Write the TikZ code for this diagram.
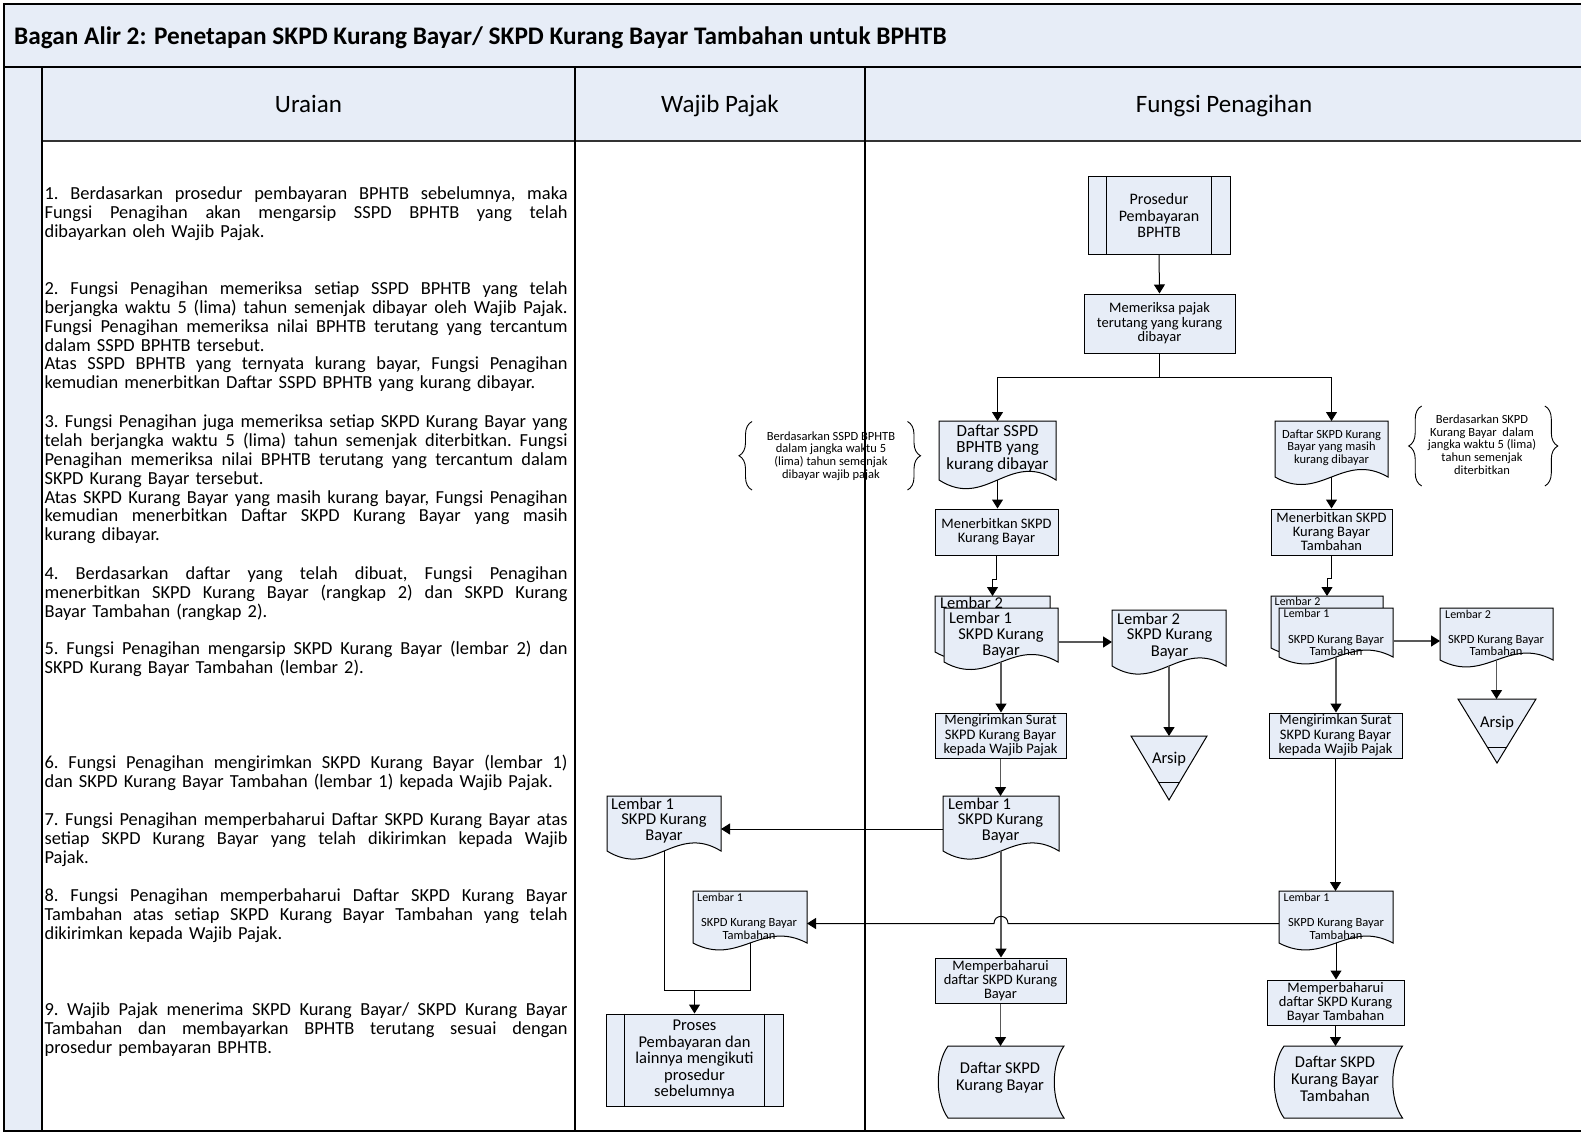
\documentclass[tikz,border=0pt]{standalone}
\usepackage{fontspec}
\setmainfont{Carlito}
\usetikzlibrary{arrows.meta,decorations.pathreplacing,calc}
\definecolor{lb}{RGB}{231,237,247}
\newcommand\myfs[2]{\fontsize{#1}{#2}\selectfont}
\newcommand\jline[1]{\makebox[523pt][s]{\spaceskip=.226em plus 1fil\relax #1}\\}
\newcommand\docnode[6]{%
  \filldraw[shp] (#2,#3) -- (#4,#3) -- (#4,#5) .. controls ({#4-0.4*(#4-#2)},{#5-#6}) and ({#2+0.4*(#4-#2)},{#5+#6}) .. (#2,#5) -- cycle;
  \node[anc, minimum width={#4-#2}, minimum height={#5-#3}] (#1) at ({(#2+#4)/2},{(#3+#5)/2}) {};}
\newcommand\arsip[7]{%
  \filldraw[shp] (#2,#4) -- (#3,#4) -- ({(#2+#3)/2},#5) -- cycle;
  \pgfmathsetmacro\arshw{(#3-#2)/2*(#5-#6)/(#5-#4)}
  \draw[line width=1pt] ({(#2+#3)/2-\arshw},#6) -- ({(#2+#3)/2+\arshw},#6);
  \node[anc, minimum width={#3-#2}, minimum height={#5-#4}] (#1) at ({(#2+#3)/2},{(#4+#5)/2}) {};
  \node[lbl, font=\myfs{16.5}{16.5}] (#1-t) at ({(#2+#3)/2},#7) {Arsip};}
\newcommand\stored[6]{%
  \filldraw[shp] (#2,#4) -- (#3,#4) .. controls ({#3-#6},{#4+0.25*(#5-#4)}) and ({#3-#6},{#5-0.25*(#5-#4)}) .. (#3,#5) -- (#2,#5) .. controls ({#2-#6},{#5-0.25*(#5-#4)}) and ({#2-#6},{#4+0.25*(#5-#4)}) .. (#2,#4) -- cycle;
  \node[anc, minimum width={#3-#2}, minimum height={#5-#4}] (#1) at ({(#2+#3)/2},{(#4+#5)/2}) {};}
\begin{document}
\begin{tikzpicture}[x=1pt,y=-1pt,
  shp/.style={draw=black, fill=lb, line width=1pt},
  box/.style={shp, rectangle, inner sep=0pt, align=center},
  anc/.style={rectangle, inner sep=0pt, outer sep=0pt},
  lbl/.style={inner sep=0pt, align=center},
  arr/.style={line width=1pt, -{Triangle[length=9pt,width=11pt]}},
  garr/.style={line width=1.4pt, draw=black!65, -{Triangle[length=9pt,width=11pt,color=black]}},
  ln/.style={line width=1pt},
  brc/.style={decorate, decoration={brace, amplitude=13pt}, line width=0.9pt},
  bodytxt/.style={anchor=north west, inner sep=0pt, text width=523pt, align=left, font=\myfs{18.4}{18.85}\frenchspacing},
  hdr/.style={anchor=base, inner sep=0pt, font=\myfs{25}{25}},
  inl/.style={line width=1pt}
]
\useasboundingbox (0,0) rectangle (1581,1134);
% ---------- frame ----------
\fill[lb] (4,4) rectangle (1590,141);
\fill[lb] (4,141) rectangle (42,1131);
\draw[line width=2pt] (1590,4) -- (4,4) -- (4,1131) -- (1590,1131);
\draw[line width=2pt] (4,67) -- (1590,67);
\draw[line width=1.2pt, black!80] (42,141) -- (1590,141);
\draw[line width=1.2pt] (42,67) -- (42,1131);
\draw[line width=1.2pt] (575,67) -- (575,1131);
\draw[line width=1.2pt] (865,67) -- (865,1131);
\node[anchor=base west, inner sep=0pt, font=\myfs{25.3}{25.3}\bfseries] (title) at (14,44.5) {Bagan Alir 2: Penetapan SKPD Kurang Bayar/ SKPD Kurang Bayar Tambahan untuk BPHTB};
\node[hdr] (h1) at (308.5,112.5) {Uraian};
\node[hdr] (h2) at (720,112.5) {Wajib Pajak};
\node[hdr] (h3) at (1224,112.5) {Fungsi Penagihan};
% ---------- uraian ----------
\node[bodytxt] (u1) at (44.4,184.5) {\rule{0pt}{15pt}\jline{1. Berdasarkan prosedur pembayaran BPHTB sebelumnya, maka}\jline{Fungsi Penagihan akan mengarsip SSPD BPHTB yang telah}dibayarkan oleh Wajib Pajak.};
\node[bodytxt] (u2) at (44.4,279.3) {\rule{0pt}{15pt}\jline{2. Fungsi Penagihan memeriksa setiap SSPD BPHTB yang telah}\jline{berjangka waktu 5 (lima) tahun semenjak dibayar oleh Wajib Pajak.}\jline{Fungsi Penagihan memeriksa nilai BPHTB terutang yang tercantum}dalam SSPD BPHTB tersebut.\\\jline{Atas SSPD BPHTB yang ternyata kurang bayar, Fungsi Penagihan}kemudian menerbitkan Daftar SSPD BPHTB yang kurang dibayar.};
\node[bodytxt] (u3) at (44.4,412.4) {\rule{0pt}{15pt}\jline{3. Fungsi Penagihan juga memeriksa setiap SKPD Kurang Bayar yang}\jline{telah berjangka waktu 5 (lima) tahun semenjak diterbitkan. Fungsi}\jline{Penagihan memeriksa nilai BPHTB terutang yang tercantum dalam}SKPD Kurang Bayar tersebut.\\\jline{Atas SKPD Kurang Bayar yang masih kurang bayar, Fungsi Penagihan}\jline{kemudian menerbitkan Daftar SKPD Kurang Bayar yang masih}kurang dibayar.};
\node[bodytxt] (u4) at (44.4,564.6) {\rule{0pt}{15pt}\jline{4. Berdasarkan daftar yang telah dibuat, Fungsi Penagihan}\jline{menerbitkan SKPD Kurang Bayar (rangkap 2) dan SKPD Kurang}Bayar Tambahan (rangkap 2).};
\node[bodytxt] (u5) at (44.4,639.2) {\rule{0pt}{15pt}\jline{5. Fungsi Penagihan mengarsip SKPD Kurang Bayar (lembar 2) dan}SKPD Kurang Bayar Tambahan (lembar 2).};
\node[bodytxt] (u6) at (44.4,753.2) {\rule{0pt}{15pt}\jline{6. Fungsi Penagihan mengirimkan SKPD Kurang Bayar (lembar 1)}dan SKPD Kurang Bayar Tambahan (lembar 1) kepada Wajib Pajak.};
\node[bodytxt] (u7) at (44.4,810.6) {\rule{0pt}{15pt}\jline{7. Fungsi Penagihan memperbaharui Daftar SKPD Kurang Bayar atas}\jline{setiap SKPD Kurang Bayar yang telah dikirimkan kepada Wajib}Pajak.};
\node[bodytxt] (u8) at (44.4,886.3) {\rule{0pt}{15pt}\jline{8. Fungsi Penagihan memperbaharui Daftar SKPD Kurang Bayar}\jline{Tambahan atas setiap SKPD Kurang Bayar Tambahan yang telah}dikirimkan kepada Wajib Pajak.};
\node[bodytxt] (u9) at (44.4,1000.2) {\rule{0pt}{15pt}\jline{9. Wajib Pajak menerima SKPD Kurang Bayar/ SKPD Kurang Bayar}\jline{Tambahan dan membayarkan BPHTB terutang sesuai dengan}prosedur pembayaran BPHTB.};
% ---------- flow: top ----------
\node[box, minimum width=142, minimum height=77, font=\myfs{16}{16.8}] (proc1) at (1159,215.5) {Prosedur\\Pembayaran\\BPHTB};
\draw[inl] ([xshift=19pt]proc1.north west) -- ([xshift=19pt]proc1.south west);
\draw[inl] ([xshift=-19pt]proc1.north east) -- ([xshift=-19pt]proc1.south east);
\node[box, minimum width=151, minimum height=59, font=\myfs{14.5}{14.5}] (chk) at (1159.5,323.5) {Memeriksa pajak\\terutang yang kurang\\dibayar};
\docnode{dssp}{939}{421}{1056}{480}{30}
\node[lbl, font=\myfs{17}{16.5}] (t-dssp) at (997.5,448.5) {Daftar SSPD\\BPHTB yang\\kurang dibayar};
\docnode{dskp}{1275}{421}{1388}{477}{26}
\node[lbl, font=\myfs{12.5}{12.5}] (t-dskp) at (1331.5,447.5) {Daftar SKPD Kurang\\Bayar yang masih\\kurang dibayar};
% annotations
\node[lbl, font=\myfs{12.5}{12.8}] (ann1) at (831,456) {Berdasarkan SSPD BPHTB\\dalam jangka waktu 5\\(lima) tahun semenjak\\dibayar wajib pajak};
\draw[brc] (752,490) -- (752,421.5);
\draw[brc] (907.5,421.5) -- (907.5,490);
\node[lbl, font=\myfs{12.5}{12.7}] (ann2) at (1482,444.5) {Berdasarkan SKPD\\Kurang Bayar\ \ dalam\\jangka waktu 5 (lima)\\tahun semenjak\\diterbitkan};
\draw[brc] (1421.7,486) -- (1421.7,406);
\draw[brc] (1544.8,406) -- (1544.8,486);
\node[box, minimum width=123, minimum height=46, font=\myfs{14.5}{14}] (mkb) at (996.5,532) {Menerbitkan SKPD\\Kurang Bayar};
\node[box, minimum width=121, minimum height=46, font=\myfs{14.5}{14}] (mkbt) at (1331.5,532) {Menerbitkan SKPD\\Kurang Bayar\\Tambahan};
% ---------- left branch ----------
\docnode{sb1}{935}{596}{1050}{652}{26}
\docnode{sf1}{944}{608}{1058}{662}{26}
\node[lbl, anchor=west, font=\myfs{16.5}{16.5}] (t-sb1) at (940,603) {Lembar 2};
\node[lbl, anchor=west, font=\myfs{16.5}{16.5}] (t-sf1a) at (949,618) {Lembar 1};
\node[lbl, font=\myfs{16.5}{16.5}] (t-sf1b) at (1001,643.3) {SKPD Kurang\\Bayar};
\docnode{l2kb}{1112}{610}{1226}{666}{28}
\node[lbl, anchor=west, font=\myfs{16.5}{16.5}] (t-l2kba) at (1117,619) {Lembar 2};
\node[lbl, font=\myfs{16.5}{16.5}] (t-l2kbb) at (1169.6,644) {SKPD Kurang\\Bayar};
\arsip{ars1}{1131}{1207}{736}{800}{782.5}{759}
\node[box, minimum width=131, minimum height=45, font=\myfs{14.5}{14.6}] (kirim1) at (1000.5,735.5) {Mengirimkan Surat\\SKPD Kurang Bayar\\kepada Wajib Pajak};
\docnode{l1kb}{943}{796}{1059}{851}{28}
\node[lbl, anchor=west, font=\myfs{16.5}{16.5}] (t-l1kba) at (948,803.6) {Lembar 1};
\node[lbl, font=\myfs{16.5}{16.3}] (t-l1kbb) at (1000.5,828.8) {SKPD Kurang\\Bayar};
\node[box, minimum width=131, minimum height=45, font=\myfs{14.5}{14.3}] (mem1) at (1000.5,980.5) {Memperbaharui\\daftar SKPD Kurang\\Bayar};
\stored{dkb}{948}{1064}{1046}{1118}{13}
\node[lbl, font=\myfs{16.5}{16.7}] (t-dkb) at (1000,1078) {Daftar SKPD\\Kurang Bayar};
% ---------- wajib pajak ----------
\docnode{wp1}{607}{796}{721}{851}{28}
\node[lbl, anchor=west, font=\myfs{16.5}{16.5}] (t-wp1a) at (611,803.6) {Lembar 1};
\node[lbl, font=\myfs{16.5}{16.3}] (t-wp1b) at (664,828.8) {SKPD Kurang\\Bayar};
\docnode{wp2}{693}{891}{807}{943}{24}
\node[lbl, anchor=west, font=\myfs{12}{12}] (t-wp2a) at (697,897.4) {Lembar 1};
\node[lbl, font=\myfs{12.5}{13}] (t-wp2b) at (749,929.2) {SKPD Kurang Bayar\\Tambahan};
\node[box, minimum width=177, minimum height=92, font=\myfs{16.5}{16.5}] (proses) at (694.5,1060) {Proses\\Pembayaran dan\\lainnya mengikuti\\prosedur\\sebelumnya};
\draw[inl] ([xshift=19pt]proses.north west) -- ([xshift=19pt]proses.south west);
\draw[inl] ([xshift=-19pt]proses.north east) -- ([xshift=-19pt]proses.south east);
% ---------- right branch ----------
\docnode{sb2}{1271}{596}{1383}{648}{24}
\docnode{sf2}{1279}{608}{1393}{657}{24}
\node[lbl, anchor=west, font=\myfs{12}{12}] (t-sb2) at (1274.5,601) {Lembar 2};
\node[lbl, anchor=west, font=\myfs{12}{12}] (t-sf2a) at (1283.5,613) {Lembar 1};
\node[lbl, font=\myfs{12.5}{12}] (t-sf2b) at (1336,645.3) {SKPD Kurang Bayar\\Tambahan};
\docnode{l2t}{1440}{608}{1553}{660}{24}
\node[lbl, anchor=west, font=\myfs{12}{12}] (t-l2ta) at (1445,614) {Lembar 2};
\node[lbl, font=\myfs{12.5}{12}] (t-l2tb) at (1496,645.8) {SKPD Kurang Bayar\\Tambahan};
\arsip{ars2}{1458}{1536}{699}{763}{747}{723}
\node[box, minimum width=133, minimum height=45, font=\myfs{14.5}{14.6}] (kirim2) at (1335.5,735.5) {Mengirimkan Surat\\SKPD Kurang Bayar\\kepada Wajib Pajak};
\docnode{l1kbt}{1279}{891}{1393}{943}{24}
\node[lbl, anchor=west, font=\myfs{12}{12}] (t-l1kbta) at (1283.5,897.4) {Lembar 1};
\node[lbl, font=\myfs{12.5}{13}] (t-l1kbtb) at (1336,929.2) {SKPD Kurang Bayar\\Tambahan};
\node[box, minimum width=137, minimum height=45, font=\myfs{14.5}{14.3}] (mem2) at (1335.5,1002.5) {Memperbaharui\\daftar SKPD Kurang\\Bayar Tambahan};
\stored{dkbt}{1284}{1402.5}{1046}{1118}{13}
\node[lbl, font=\myfs{16.5}{16.7}] (t-dkbt) at (1335,1079) {Daftar SKPD\\Kurang Bayar\\Tambahan};
% ---------- connectors ----------
\draw[arr] (proc1.south) -- (chk.north);
\coordinate (br) at (chk.south |- 0,377);
\draw[ln] (chk.south) -- (br);
\draw[arr] (br) -| (dssp.north);
\draw[arr] (br) -| (dskp.north);
\draw[arr] (dssp.south) -- (dssp.south |- mkb.north);
\draw[arr] (dskp.south) -- (dskp.south |- mkbt.north);
\draw[arr] (mkb.south) -- ++(0,24) -| (sb1.north);
\draw[arr] (mkbt.south) -- ++(0,23) -| (sb2.north);
\draw[garr] (sf1.east |- 0,642) -- (l2kb.west |- 0,642);
\draw[garr] (sf1.south) -- (sf1.south |- kirim1.north);
\draw[garr] (l2kb.south) -- (ars1.north);
\draw[garr] (kirim1.south) -- (kirim1.south |- l1kb.north);
\draw[arr] (l1kb.west |- 0,829) -- (wp1.east |- 0,829);
\draw[garr] (l1kb.south) -- (l1kb.south |- mem1.north);
\draw[garr] (mem1.south) -- (mem1.south |- dkb.north);
\draw[arr] (l1kbt.west |- 0,923.5) -- (1008,923.5) .. controls (1008,914) and (994,914) .. (994,923.5) -- (wp2.east |- 0,923.5);
\coordinate (mrg) at (proses.north |- 0,990);
\draw[ln] (wp1.south) |- (mrg) -| (wp2.south);
\draw[arr] (mrg) -- (proses.north);
\draw[garr] (sf2.east |- 0,641) -- (l2t.west |- 0,641);
\draw[garr] (l2t.south) -- (l2t.south |- ars2.north);
\draw[garr] (sf2.south) -- (sf2.south |- kirim2.north);
\draw[arr] (kirim2.south) -- (kirim2.south |- l1kbt.north);
\draw[arr] (l1kbt.south) -- (l1kbt.south |- mem2.north);
\draw[arr] (mem2.south) -- (mem2.south |- dkbt.north);
\end{tikzpicture}
\end{document}
